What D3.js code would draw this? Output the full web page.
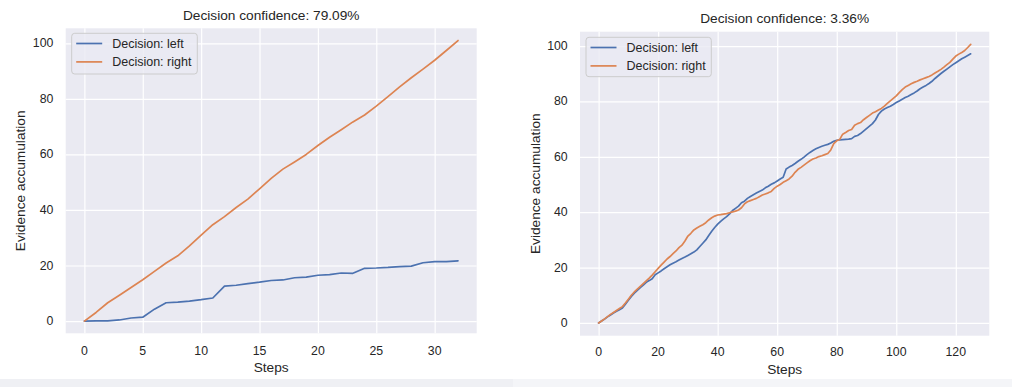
<!DOCTYPE html>
<html>
<head>
<meta charset="utf-8">
<script src="https://cdn.jsdelivr.net/npm/d3@7"></script>
<style>
  html, body { margin: 0; padding: 0; background: #ffffff; }
  svg { display: block; }
  text { font-family: "Liberation Sans", Arial, sans-serif; fill: #262626; }
</style>
</head>
<body>
<svg id="chart" width="1012" height="387"></svg>
<script>
// ---------------- data ----------------
const titles = ["Decision confidence: 79.09%", "Decision confidence: 3.36%"];
const seriesNames = ["Decision: left", "Decision: right"];
const xLabel = "Steps";
const yLabel = "Evidence accumulation";

const panelAEvidenceLeft = [0, 0.05, 0.1, 0.4, 1.1, 1.4, 4.3, 6.6, 6.8, 7.2, 7.7, 8.3, 12.6, 12.9, 13.5, 14.0, 14.6, 14.8, 15.6, 15.8, 16.5, 16.7, 17.3, 17.2, 19.0, 19.1, 19.3, 19.6, 19.8, 21.0, 21.4, 21.4, 21.7];
const panelAEvidenceRight = [0, 3.1, 6.6, 9.3, 12.1, 14.9, 17.9, 20.9, 23.5, 27.1, 30.9, 34.7, 37.6, 40.9, 43.9, 47.6, 51.4, 54.7, 57.3, 60.0, 63.2, 66.2, 68.9, 71.7, 74.2, 77.4, 80.8, 84.3, 87.6, 90.7, 93.9, 97.4, 101.0];

const panelBEvidenceLeft = [0, 0.7, 1.4, 2.2, 2.9, 3.6, 4.2, 4.8, 5.4, 6.8, 8.2, 9.6, 10.8, 11.8, 12.8, 13.7, 14.7, 15.3, 16.0, 17.4, 18.1, 18.8, 19.6, 20.3, 21.0, 21.6, 22.1, 22.7, 23.3, 23.8, 24.4, 25.0, 25.6, 26.4, 27.6, 28.8, 30.0, 31.6, 33.1, 34.5, 35.7, 36.7, 37.6, 38.4, 39.4, 40.6, 41.4, 42.2, 43.4, 44.0, 45.0, 45.7, 46.3, 46.9, 47.5, 48.0, 48.8, 49.4, 50.1, 50.6, 51.3, 52.0, 52.6, 55.6, 56.3, 56.9, 57.6, 58.4, 59.1, 59.9, 60.8, 61.6, 62.3, 62.9, 63.4, 63.8, 64.2, 64.5, 65.0, 65.6, 66.0, 66.1, 66.2, 66.3, 66.4, 66.6, 67.4, 67.7, 68.4, 69.3, 70.2, 71.1, 72.0, 73.3, 75.3, 76.5, 77.3, 77.8, 78.3, 78.9, 79.6, 80.2, 80.8, 81.4, 81.9, 82.5, 83.1, 83.8, 84.6, 85.2, 85.8, 86.5, 87.3, 88.3, 89.2, 90.1, 90.9, 91.7, 92.5, 93.3, 94.0, 94.7, 95.4, 96.0, 96.6, 97.2];
const panelBEvidenceRight = [0, 0.7, 1.5, 2.3, 3.1, 3.8, 4.5, 5.2, 5.9, 7.2, 8.6, 10.0, 11.2, 12.2, 13.2, 14.2, 15.2, 16.2, 17.3, 18.5, 19.7, 20.9, 22.0, 23.1, 24.0, 25.0, 26.0, 27.2, 28.1, 29.6, 31.4, 32.4, 33.6, 34.3, 34.9, 35.5, 36.2, 37.2, 38.0, 38.6, 39.0, 39.1, 39.3, 39.5, 39.8, 40.1, 40.4, 40.8, 41.6, 43.0, 43.8, 44.2, 44.6, 45.0, 45.6, 46.2, 46.6, 47.0, 47.5, 48.6, 49.4, 50.0, 50.8, 51.4, 52.0, 53.0, 54.4, 55.5, 56.2, 57.0, 57.8, 58.6, 59.2, 59.6, 60.1, 60.4, 60.8, 61.2, 62.5, 64.8, 65.8, 66.3, 68.2, 68.8, 69.5, 69.9, 71.4, 72.0, 72.4, 73.4, 74.2, 75.0, 75.8, 76.3, 76.9, 77.5, 78.3, 79.3, 80.2, 81.1, 82.0, 83.2, 84.3, 85.2, 85.8, 86.4, 86.9, 87.3, 87.8, 88.2, 88.6, 89.0, 89.6, 90.3, 90.9, 91.6, 92.4, 93.3, 94.1, 95.3, 96.4, 97.1, 97.7, 98.4, 99.5, 100.6];

const panelAXTicks = [0, 5, 10, 15, 20, 25, 30];
const panelBXTicks = [0, 20, 40, 60, 80, 100, 120];
const yTicks = [0, 20, 40, 60, 80, 100];

// ---------------- style / layout ----------------
const colors = ["#4c72b0", "#dd8452"];
const bg = "#eaeaf2";

const panels = [
  {
    title: titles[0], series: [panelAEvidenceLeft, panelAEvidenceRight], xTicks: panelAXTicks,
    plot: { x0: 65.7, x1: 476.7, y0: 28.3, y1: 333.3 },
    xDomain: [-1.6, 33.6], yDomain: [-4.4, 105.4],
    titleY: 15.7, xTickY: 350.5, xLabelY: 367.8, yLabelX: 20.5,
    legend: { x: 71.7, y: 33.3, w: 125.6, h: 40.7 }
  },
  {
    title: titles[1], series: [panelBEvidenceLeft, panelBEvidenceRight], xTicks: panelBXTicks,
    plot: { x0: 580.0, x1: 989.3, y0: 31.7, y1: 335.7 },
    xDomain: [-6.25, 131.25], yDomain: [-4.6, 105.2],
    titleY: 18.3, xTickY: 352.3, xLabelY: 369.5, yLabelX: 535,
    legend: { x: 586, y: 37.3, w: 125.3, h: 39.4 }
  }
];

const svg = d3.select("#chart");

// bottom strip from the screenshot
svg.append("rect").attr("x", 0).attr("y", 379).attr("width", 513).attr("height", 8).attr("fill", "#eff0f4");
svg.append("rect").attr("x", 513).attr("y", 379).attr("width", 499).attr("height", 8).attr("fill", "#f4f5f8");

panels.forEach(p => {
  const g = svg.append("g");
  const x = d3.scaleLinear().domain(p.xDomain).range([p.plot.x0, p.plot.x1]);
  const y = d3.scaleLinear().domain(p.yDomain).range([p.plot.y1, p.plot.y0]);

  g.append("rect")
    .attr("x", p.plot.x0).attr("y", p.plot.y0)
    .attr("width", p.plot.x1 - p.plot.x0).attr("height", p.plot.y1 - p.plot.y0)
    .attr("fill", bg);

  // grid via axes
  const xAxis = d3.axisBottom(x).tickValues(p.xTicks).tickSize(-(p.plot.y1 - p.plot.y0)).tickFormat("");
  const gx = g.append("g").attr("transform", `translate(0,${p.plot.y1})`).call(xAxis);
  gx.select(".domain").remove();
  gx.selectAll("line").attr("stroke", "#ffffff").attr("stroke-width", 1.2);

  const yAxis = d3.axisLeft(y).tickValues(yTicks).tickSize(-(p.plot.x1 - p.plot.x0)).tickFormat("");
  const gy = g.append("g").attr("transform", `translate(${p.plot.x0},0)`).call(yAxis);
  gy.select(".domain").remove();
  gy.selectAll("line").attr("stroke", "#ffffff").attr("stroke-width", 1.2);

  // tick labels
  g.selectAll(".xt").data(p.xTicks).enter().append("text")
    .attr("x", d => x(d)).attr("y", p.xTickY)
    .attr("text-anchor", "middle").attr("dominant-baseline", "central")
    .style("font-size", "12.3px").text(d => d);
  g.selectAll(".yt").data(yTicks).enter().append("text")
    .attr("x", p.plot.x0 - 12.3).attr("y", d => y(d))
    .attr("text-anchor", "end").attr("dominant-baseline", "central")
    .style("font-size", "12.3px").text(d => d);

  // lines
  const line = d3.line().x((d, i) => x(i)).y(d => y(d));
  p.series.forEach((s, k) => {
    g.append("path").datum(s)
      .attr("d", line).attr("fill", "none")
      .attr("stroke", colors[k]).attr("stroke-width", 1.7)
      .attr("stroke-linejoin", "round").attr("stroke-linecap", "round");
  });

  // titles and labels
  const cx = (p.plot.x0 + p.plot.x1) / 2;
  const cy = (p.plot.y0 + p.plot.y1) / 2;
  g.append("text").attr("x", cx).attr("y", p.titleY)
    .attr("text-anchor", "middle").attr("dominant-baseline", "central")
    .style("font-size", "13.7px").text(p.title);
  g.append("text").attr("x", cx).attr("y", p.xLabelY)
    .attr("text-anchor", "middle").attr("dominant-baseline", "central")
    .style("font-size", "13.7px").text(xLabel);
  g.append("text").attr("transform", `translate(${p.yLabelX},${cy}) rotate(-90)`)
    .attr("text-anchor", "middle").attr("dominant-baseline", "central")
    .style("font-size", "13.7px").text(yLabel);

  // legend
  const L = p.legend;
  g.append("rect").attr("x", L.x).attr("y", L.y).attr("width", L.w).attr("height", L.h)
    .attr("rx", 3).attr("ry", 3)
    .attr("fill", bg).attr("fill-opacity", 0.8)
    .attr("stroke", "#cccccc").attr("stroke-width", 1);
  seriesNames.forEach((name, k) => {
    const ly = L.y + 10.2 + k * 18.4;
    g.append("line").attr("x1", L.x + 4.5).attr("x2", L.x + 30.5)
      .attr("y1", ly).attr("y2", ly)
      .attr("stroke", colors[k]).attr("stroke-width", 1.7);
    g.append("text").attr("x", L.x + 40.5).attr("y", ly)
      .attr("dominant-baseline", "central")
      .style("font-size", "12.5px").text(name);
  });
});
</script>
</body>
</html>
